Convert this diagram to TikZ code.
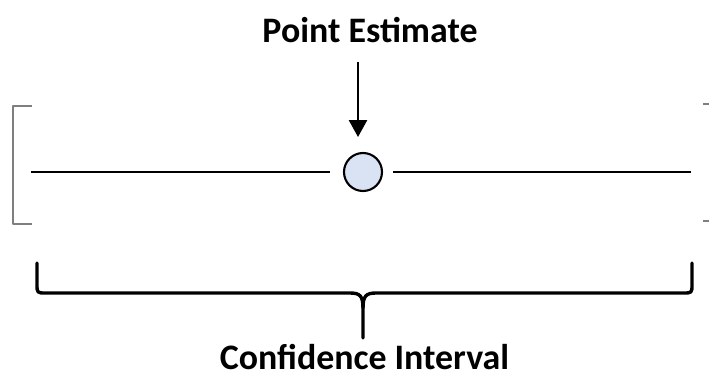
\documentclass[tikz,border=0pt]{standalone}
\usepackage{fontspec}
\setmainfont{Carlito}
\usepackage{tikz}
\usetikzlibrary{arrows.meta, positioning}
\definecolor{estblue}{HTML}{DAE3F3}
\definecolor{bracketgray}{HTML}{7F7F7F}

\begin{document}
\begin{tikzpicture}[x=0.025cm, y=-0.025cm,
        >={Triangle[length=0.42cm, width=0.45cm]},
        title/.style={font=\fontsize{25.5}{30}\selectfont\bfseries, inner sep=0pt, anchor=base},
        axis/.style={line width=2.1pt},
        estimate/.style={circle, draw, line width=1.5pt, fill=estblue, minimum size=0.95cm, inner sep=0pt},
        bracket/.style={bracketgray, line width=1.1pt, line join=round},
        brace/.style={line width=2.4pt, line join=round, line cap=round},
      ]
        \useasboundingbox (0,0) rectangle (709,376);
        % point estimate and its arrow
        \node[title] (pe) at (370,42) {Point Estimate};
        \node[estimate] (est) at (363,172) {};
        \coordinate (arrtop) at (358,62);
        \coordinate (arrtip) at (358,137);
        \draw[->, line width=1.4pt] (arrtop) -- (arrtip);
        % the interval line
        \coordinate (lo) at (31,172);
        \coordinate (hi) at (691,172);
        \draw[axis, shorten >=0.32cm] (lo) -- (est.west);
        \draw[axis, shorten <=0.25cm] (est.east) -- (hi);
        % gray brackets at the ends
        \draw[bracket] (32,106) -- (13,106) -- (13,224) -- (32,224);
        \draw[bracket] (703,104) -- (712,104) -- (712,221) -- (703,221);
        % brace under the interval
        \coordinate (bl) at (37,263);
        \coordinate (br) at (692,263);
        \coordinate (bmid) at (363,338);
        \draw[brace] (bl) -- (37,284) .. controls (37,293) .. (46,293) -- (350,293)
            .. controls (360,293) and (363,296) .. (363,308) -- (bmid);
        \draw[brace] (br) -- (692,284) .. controls (692,293) .. (683,293) -- (376,293)
            .. controls (366,293) and (363,296) .. (363,308);
        \node[title] (ci) at (364.5,369) {Confidence Interval};
      \end{tikzpicture}
\end{document}
